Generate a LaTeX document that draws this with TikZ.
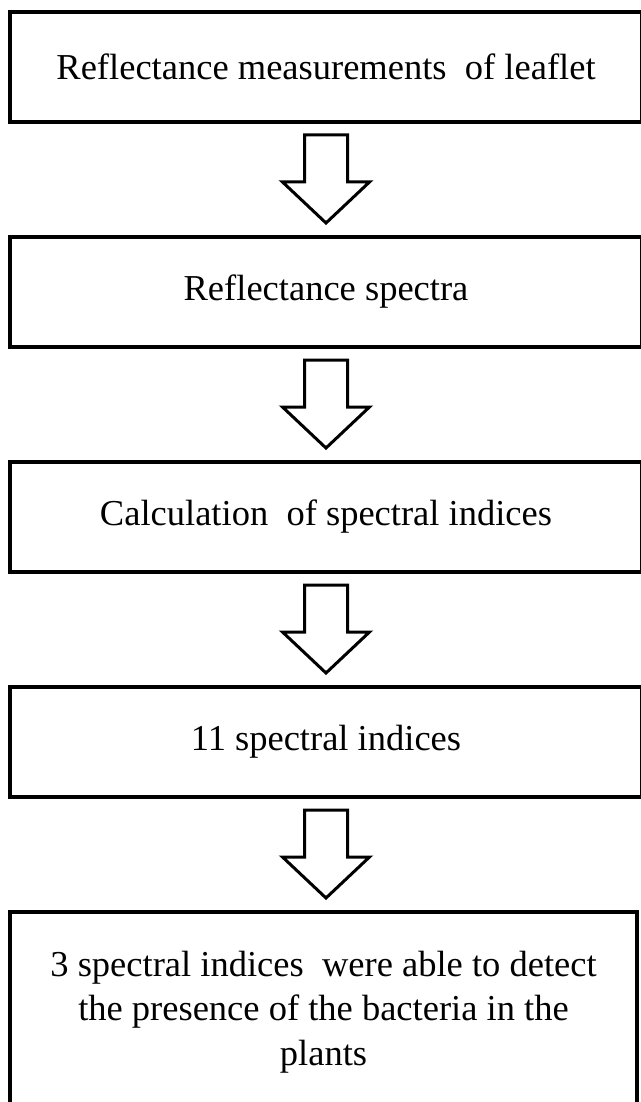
\documentclass[tikz,border=0pt]{standalone}
\usepackage{fontspec}
\setmainfont{Liberation Serif}
\usetikzlibrary{positioning}

\begin{document}
\begin{tikzpicture}[node distance=115pt,
                step box/.style={rectangle,draw,line width=3.5pt,minimum width=632pt,
                  minimum height=110pt,inner sep=0pt,outer sep=0pt,align=center,
                  font=\fontsize{36.5}{44.5}\selectfont},
                block arrow/.style={draw,line width=3pt,fill=white,line join=miter}]

  \useasboundingbox (0,0) rectangle (640pt,-1102pt);

  \node[step box,anchor=north west] (1) at (10pt,-12pt) {Reflectance measurements\ \ of leaflet};
  \node[step box] (2) [below=of 1] {Reflectance spectra};
  \node[step box] (3) [below=of 2] {Calculation\ \ of spectral indices};
  \node[step box] (4) [below=of 3] {11 spectral indices};
  \node[step box,minimum width=627pt,minimum height=200pt,below=of 4.south west,anchor=north west] (5)
    {3 spectral indices\ \ were able to detect\\the presence of the bacteria in the\\plants};

  \draw[block arrow] (1.south) ++(-21.5pt,-13pt) -- ++(0,-47pt) -- ++(-22pt,0) -- ++(43.5pt,-41pt)
    -- ++(43.5pt,41pt) -- ++(-22pt,0) -- ++(0,47pt) -- cycle;
  \draw[block arrow] (2.south) ++(-21.5pt,-13pt) -- ++(0,-47pt) -- ++(-22pt,0) -- ++(43.5pt,-41pt)
    -- ++(43.5pt,41pt) -- ++(-22pt,0) -- ++(0,47pt) -- cycle;
  \draw[block arrow] (3.south) ++(-21.5pt,-13pt) -- ++(0,-47pt) -- ++(-22pt,0) -- ++(43.5pt,-41pt)
    -- ++(43.5pt,41pt) -- ++(-22pt,0) -- ++(0,47pt) -- cycle;
  \draw[block arrow] (4.south) ++(-21.5pt,-13pt) -- ++(0,-47pt) -- ++(-22pt,0) -- ++(43.5pt,-41pt)
    -- ++(43.5pt,41pt) -- ++(-22pt,0) -- ++(0,47pt) -- cycle;
\end{tikzpicture}
\end{document}
